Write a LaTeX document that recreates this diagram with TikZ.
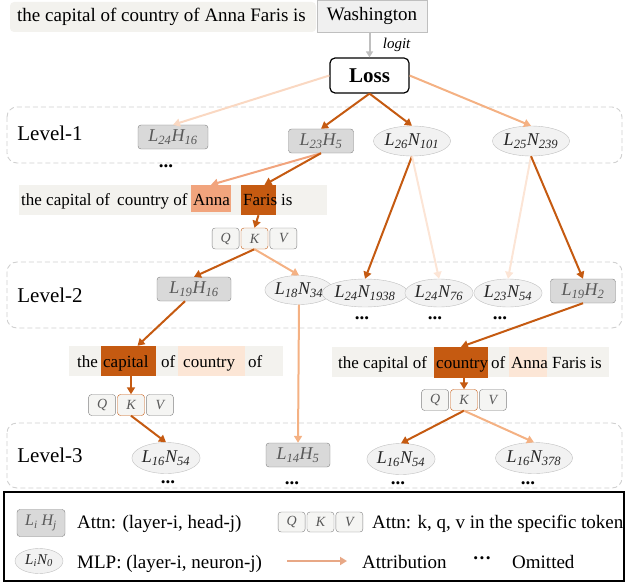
\documentclass[tikz,border=0pt]{standalone}
\usepackage{fontspec}
\setmainfont{Liberation Serif}
\usetikzlibrary{arrows.meta,positioning,shapes.geometric}
\definecolor{cdark}{RGB}{197,90,17}
\definecolor{cmid}{RGB}{244,177,131}
\definecolor{cpale}{RGB}{250,216,194}
\definecolor{cfaint}{RGB}{252,229,214}
\definecolor{csalmon}{RGB}{241,164,125}
\definecolor{chigh}{RGB}{252,230,214}
\definecolor{clegend}{RGB}{232,168,134}
\definecolor{attfill}{RGB}{217,217,217}
\definecolor{attdraw}{RGB}{128,128,128}
\definecolor{mlpfill}{RGB}{242,242,242}
\definecolor{mlpdraw}{RGB}{191,191,191}
\definecolor{bandfill}{RGB}{243,242,238}
\definecolor{qkvfill}{RGB}{245,245,243}
\definecolor{lvlgray}{RGB}{208,208,208}
\newcommand{\fsz}[1]{\fontsize{#1}{#1}\selectfont}
\newcommand{\attn}[2]{\textit{L\textsubscript{#1}H\textsubscript{#2}}}
\newcommand{\mlp}[2]{\textit{L\textsubscript{#1}N\textsubscript{#2}}}
\tikzset{
  attr/.style={-{Triangle[length=7pt,width=8pt]}, line width=2pt, draw=#1},
  attnbox/.style={draw=attdraw, fill=attfill, rounded corners=3pt, inner sep=0pt,
                  minimum height=24pt, text=black!65, font=\fsz{18}},
  mlpbox/.style={ellipse, draw=mlpdraw, fill=mlpfill, inner sep=0pt,
                 minimum height=30pt, text=black!85, font=\fsz{18}},
  qkv/.style={draw=attdraw, fill=qkvfill, rounded corners=3pt, inner sep=0pt,
              minimum width=27pt, minimum height=21pt, text=black!65, font=\fsz{14}\itshape},
  lvlbox/.style={draw=lvlgray, dash pattern=on 5pt off 3pt, rounded corners=10pt, line width=0.9pt},
  lvltxt/.style={font=\fsz{21}},
  band/.style={fill=bandfill, inner sep=0pt},
  hlbox/.style={fill=#1, inner sep=0pt},
  word/.style={anchor=base west, inner sep=0pt, font=\fsz{17}},
  keytxt/.style={anchor=base west, inner sep=0pt, font=\fsz{19}},
  dotsnode/.style={inner sep=0pt, font=\fsz{19}\bfseries},
}

\begin{document}
\begin{tikzpicture}[x=1pt,y=-1pt]
  \useasboundingbox (0,0) rectangle (626,583);
  % prompt, target, loss
  \node[band, rounded corners=4pt, minimum width=306pt, minimum height=30pt] (prompt) at (163,17) {};
  \node[keytxt] (prompttxt) at (17,22) {the capital of country of Anna Faris is};
  \node[draw=mlpdraw, fill=black!6, inner sep=0pt, minimum width=110pt, minimum height=32pt,
        font=\fsz{19}] (target) at (372,16) {Washington};
  \node[draw, line width=1.2pt, rounded corners=5pt, inner sep=0pt, minimum width=79pt,
        minimum height=35pt, font=\fsz{21}\bfseries] (loss) at (369.5,75.5) {Loss};
  \draw[-{Triangle[length=6pt,width=7pt]}, line width=2pt, black!25]
    (loss.north |- target.south) -- (loss.north)
    node[midway, right=9pt, font=\fsz{15}\itshape, text=black] {logit};

  % level boxes
  \draw[lvlbox] (7,107) rectangle (622,163);
  \draw[lvlbox] (7,262) rectangle (622,328);
  \draw[lvlbox] (7,423) rectangle (622,488);
  \node[lvltxt] (lv1) at (50,133) {Level-1};
  \node[lvltxt] (lv2) at (50,295) {Level-2};
  \node[lvltxt] (lv3) at (50,455) {Level-3};

  % level 1
  \node[attnbox, minimum width=70pt] (l24h16) at (173,137) {\attn{24}{16}};
  \node[attnbox, minimum width=65pt] (l23h5) at (321,141) {\attn{23}{5}};
  \node[mlpbox, minimum width=67pt] (l26n101) at (412,141) {\mlp{26}{101}};
  \node[mlpbox, minimum width=66pt] (l25n239) at (531,141) {\mlp{25}{239}};
  \node[dotsnode] (d1) at (166,166) {...};

  % sentence 1
  \node[band, minimum width=308pt, minimum height=30pt] (s1) at (173,200) {};
  \node[hlbox=csalmon, minimum width=40pt, minimum height=27pt] (anna1) at (211,198.5) {};
  \node[hlbox=cdark, minimum width=35pt, minimum height=30pt] (faris1) at (258.5,200) {};
  \node[word] (w11) at (21,205) {the capital of};
  \node[word] (w12) at (117,205) {country of};
  \node[word] (w13) at (193,205) {Anna};
  \node[word] (w14) at (243,205) {Faris};
  \node[word] (w15) at (281,205) {is};
  \node[qkv, draw=cdark] (k1) at (254.5,238.5) {K};
  \node[qkv, left=1.5pt of k1] (q1) {Q};
  \node[qkv, right=1.5pt of k1] (v1) {V};

  % level 2
  \node[attnbox, minimum width=74pt] (l19h16) at (194,289) {\attn{19}{16}};
  \node[mlpbox, minimum width=60pt, minimum height=29pt] (l18n34) at (299,290) {\mlp{18}{34}};
  \node[mlpbox, minimum width=71pt, minimum height=28pt] (l24n1938) at (365,293) {\mlp{24}{1938}};
  \node[mlpbox, minimum width=66pt, minimum height=28pt] (l24n76) at (439,293) {\mlp{24}{76}};
  \node[mlpbox, minimum width=65pt, minimum height=28pt] (l23n54) at (508,293) {\mlp{23}{54}};
  \node[attnbox, minimum width=65pt] (l19h2) at (583,291) {\attn{19}{2}};
  \node[dotsnode] (d2) at (362,318) {...};
  \node[dotsnode] (d3) at (435,318) {...};
  \node[dotsnode] (d4) at (500,318) {...};

  % sentence 2
  \node[band, minimum width=214pt, minimum height=30pt] (s2) at (176,361) {};
  \node[hlbox=cdark, minimum width=55pt, minimum height=30pt] (capital2) at (128.5,361) {};
  \node[hlbox=chigh, minimum width=67pt, minimum height=30pt] (country2) at (211.5,361) {};
  \node[word] (w21) at (77,367) {the};
  \node[word] (w22) at (103,367) {capital};
  \node[word] (w23) at (161,367) {of};
  \node[word] (w24) at (183,367) {country};
  \node[word] (w25) at (248,367) {of};
  \node[qkv, draw=cdark] (k2) at (131,405) {K};
  \node[qkv, left=1.5pt of k2] (q2) {Q};
  \node[qkv, right=1.5pt of k2] (v2) {V};

  % sentence 3
  \node[band, minimum width=277pt, minimum height=30pt] (s3) at (470.5,362) {};
  \node[hlbox=cdark, minimum width=54pt, minimum height=31pt] (country3) at (461,362.5) {};
  \node[hlbox=chigh, minimum width=38pt, minimum height=30pt] (anna3) at (528,362) {};
  \node[word] (w31) at (338,368) {the capital of};
  \node[word] (w32) at (436,368) {country};
  \node[word] (w33) at (491,368) {of};
  \node[word] (w34) at (511,368) {Anna};
  \node[word] (w35) at (552,368) {Faris is};
  \node[qkv, draw=cdark] (k3) at (464,400) {K};
  \node[qkv, left=1.5pt of k3] (q3) {Q};
  \node[qkv, right=1.5pt of k3] (v3) {V};

  % level 3
  \node[mlpbox, minimum width=66pt, minimum height=31pt] (l16n54a) at (166,458) {\mlp{16}{54}};
  \node[attnbox, minimum width=64pt] (l14h5) at (298,455) {\attn{14}{5}};
  \node[mlpbox, minimum width=66pt, minimum height=31pt] (l16n54b) at (401,459) {\mlp{16}{54}};
  \node[mlpbox, minimum width=66pt, minimum height=31pt] (l16n378) at (534,458) {\mlp{16}{378}};
  \node[dotsnode] (d5) at (168,482) {...};
  \node[dotsnode] (d6) at (292,483) {...};
  \node[dotsnode] (d7) at (398,483) {...};
  \node[dotsnode] (d8) at (528,483) {...};

  % attributions
  \draw[attr=cpale] (loss.west) -- (l24h16.north);
  \draw[attr=cdark] (loss.south) -- (l23h5.north);
  \draw[attr=cdark] (loss.south) -- (l26n101.north);
  \draw[attr=cmid] (loss.east) -- (l25n239.north);
  \draw[attr=csalmon] (l23h5.south) -- (anna1.north);
  \draw[attr=cdark] (l23h5.south) -- ([xshift=6pt]faris1.north);
  \draw[attr=cdark] (faris1.south) -- (k1.north);
  \draw[attr=cdark] (k1.south) -- (l19h16.north);
  \draw[attr=cmid] (k1.south) -- (l18n34.north);
  \draw[attr=cdark] (l26n101.south) -- (l24n1938.north);
  \draw[attr=cfaint] (l26n101.south) -- (l24n76.north);
  \draw[attr=cfaint] (l25n239.south) -- (l23n54.north);
  \draw[attr=cdark] (l25n239.south) -- (l19h2.north);
  \draw[attr=cdark] ([xshift=-9pt]l19h16.south) -- ([xshift=9pt]capital2.north);
  \draw[attr=cdark] (k2.north |- capital2.south) -- (k2.north);
  \draw[attr=cdark] (k2.south) -- (l16n54a.north);
  \draw[attr=cmid] (l18n34.south) -- (l14h5.north);
  \draw[attr=cdark] (l19h2.south) -- (country3.north);
  \draw[attr=cdark] (k3.north |- country3.south) -- (k3.north);
  \draw[attr=cdark] (k3.south) -- (l16n54b.north);
  \draw[attr=cmid] (k3.south) -- (l16n378.north);

  % legend
  \draw[line width=1.8pt] (4,492) rectangle (624,581);
  \node[attnbox, minimum width=48pt, minimum height=27pt, font=\fsz{16}] (keyattn) at (41,523)
    {\textit{L\textsubscript{i} H\textsubscript{j}}};
  \node[keytxt] (keyattntxt) at (77,528) {Attn: (layer-i, head-j)};
  \node[qkv, minimum height=20pt] (kk) at (320.5,522) {K};
  \node[qkv, minimum height=20pt, left=1.5pt of kk] (kq) {Q};
  \node[qkv, minimum height=20pt, right=1.5pt of kk] (kv) {V};
  \node[keytxt] (keyqkvtxt) at (372,528) {Attn: k, q, v in the specific token};
  \node[mlpbox, minimum width=48pt, minimum height=25pt, font=\fsz{15}] (keymlp) at (39,561) {\mlp{i}{0}};
  \node[keytxt] (keymlptxt) at (77,568) {MLP: (layer-i, neuron-j)};
  \coordinate (keyfrom) at (287,561);
  \coordinate (keyto) at (347,561);
  \draw[attr=clegend] (keyfrom) -- (keyto);
  \node[keytxt] (keyattrtxt) at (362,568) {Attribution};
  \node[dotsnode] (keydots) at (482,561) {···};
  \node[keytxt] (keyomittxt) at (512,568) {Omitted};
\end{tikzpicture}
\end{document}
